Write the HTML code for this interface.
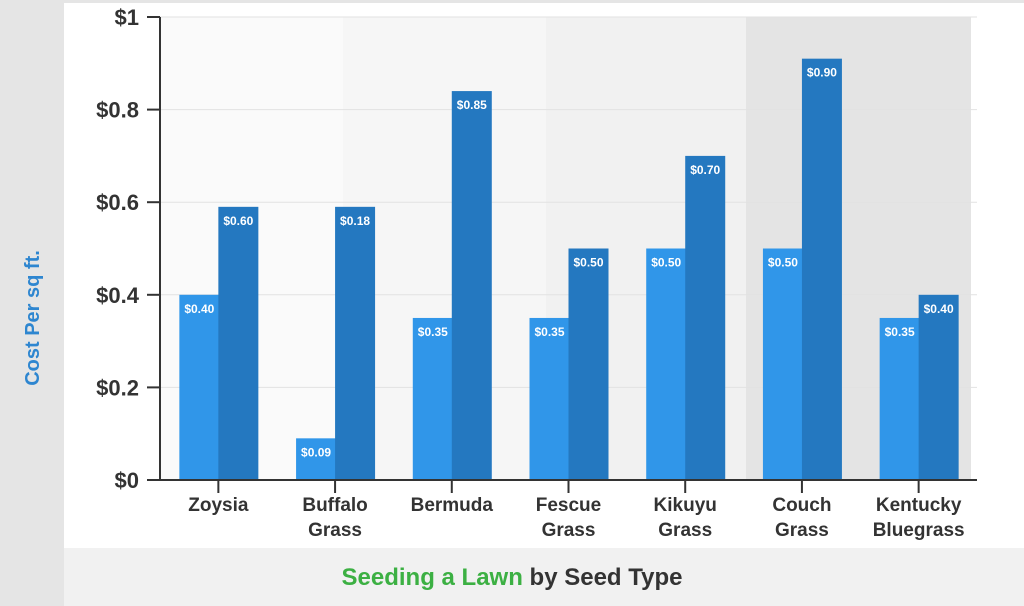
<!DOCTYPE html>
<html><head><meta charset="utf-8"><style>
body{margin:0;width:1024px;height:606px;overflow:hidden;background:#e5e5e5;font-family:"Liberation Sans",sans-serif}
</style></head><body>
<svg width="1024" height="606" style="position:absolute;left:0;top:0">
<rect x="64" y="3" width="960" height="545" fill="#fff"/>
<rect x="64" y="548" width="960" height="58" fill="#f1f1f1"/>
<g id="bands"></g>
<g id="grid"></g>
<g id="bars"></g>
<g id="axes"></g>
<text x="39" y="318" transform="rotate(-90 39 318)" text-anchor="middle" font-size="20" font-weight="bold" fill="#2e86d0">Cost Per sq ft.</text>
<text x="512" y="585" text-anchor="middle" font-size="24" font-weight="bold"><tspan fill="#3cb043">Seeding a Lawn</tspan><tspan fill="#333"> by Seed Type</tspan></text>
</svg>
<script>
const categories=[["Zoysia"],["Buffalo","Grass"],["Bermuda"],["Fescue","Grass"],["Kikuyu","Grass"],["Couch","Grass"],["Kentucky","Bluegrass"]];
const lowValues=[0.40,0.09,0.35,0.35,0.50,0.50,0.35];
const lowLabels=["$0.40","$0.09","$0.35","$0.35","$0.50","$0.50","$0.35"];
const highValues=[0.59,0.59,0.84,0.50,0.70,0.91,0.40];
const highLabels=["$0.60","$0.18","$0.85","$0.50","$0.70","$0.90","$0.40"];
const yTicks=[0,0.2,0.4,0.6,0.8,1];
const yTickLabels=["$0","$0.2","$0.4","$0.6","$0.8","$1"];
const NS="http://www.w3.org/2000/svg";
const X0=160,X1=977,Y0=480,Y1=17;
const step=(X1-X0)/categories.length;
const y=v=>Y0-(Y0-Y1)*v;
const cx=i=>X0+step*(i+0.5);
function mk(tag,attrs,parent){const e=document.createElementNS(NS,tag);for(const k in attrs)e.setAttribute(k,attrs[k]);document.getElementById(parent).appendChild(e);return e;}
[[160,343,"#fafafa"],[343,546,"#f6f6f6"],[546,746,"#f1f1f1"],[746,971,"#e4e4e4"]].forEach(b=>{
 const r=mk("rect",{x:b[0],y:Y1,width:b[1]-b[0],height:Y0-Y1,fill:b[2]},"bands");
 
 
});
yTicks.forEach((t,i)=>{
 const l=mk("line",{x1:X0,x2:X1,y1:y(t),y2:y(t),stroke:"#e2e2e2","stroke-width":1},"grid");
 
 
 const tk=mk("line",{x1:147,x2:X0,y1:y(t),y2:y(t),stroke:"#333","stroke-width":2},"axes");
 
 
 const tx=mk("text",{x:139,y:y(t)+8,"text-anchor":"end","font-size":22,"font-weight":"bold",fill:"#333"},"axes");
 tx.textContent=yTickLabels[i];
 
 
});
categories.forEach((c,i)=>{
 const c0=cx(i);
 [[lowValues,lowLabels,c0-39,"#3096e9"],[highValues,highLabels,c0,"#2478c0"]].forEach((s,k)=>{
  const v=s[0][i];
  const r=mk("rect",{x:s[2],y:y(v),width:40,height:Y0-y(v),fill:s[3]},"bars");
  
  
  const t=mk("text",{x:s[2]+20,y:y(v)+18,"text-anchor":"middle","font-size":12,"font-weight":"bold",fill:"#fff"},"bars");
  t.textContent=s[1][i];
  
  
 });
 const tk=mk("line",{x1:c0,x2:c0,y1:Y0,y2:Y0+13,stroke:"#333","stroke-width":2},"axes");
 
 
 c.forEach((w,j)=>{
  const t=mk("text",{x:c0,y:511+j*25,"text-anchor":"middle","font-size":19,"font-weight":"bold",fill:"#333"},"axes");
  t.textContent=w;
  
  
 });
});
const ax=mk("line",{x1:X0,x2:X0,y1:Y1,y2:Y0,stroke:"#333","stroke-width":2},"axes");


const bx=mk("line",{x1:147,x2:X1,y1:Y0,y2:Y0,stroke:"#333","stroke-width":2},"axes");


</script>
</body></html>
